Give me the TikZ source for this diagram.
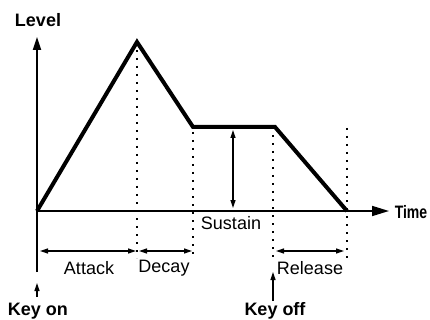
\documentclass[tikz,border=0pt]{standalone}
\usepackage{fontspec}
\setmainfont{Liberation Sans}
\usetikzlibrary{arrows.meta}
\begin{document}
\begin{tikzpicture}[x=1pt,y=-1pt,
  axis/.style={line width=1.7pt},
  env/.style={line width=4pt,line join=miter},
  dots/.style={line width=2pt,dash pattern=on 2pt off 6pt},
  dim/.style={line width=1.2pt,{Triangle[length=8pt,width=5pt]}-{Triangle[length=8pt,width=5pt]}},
  keyarrow/.style={line width=1.2pt,-{Triangle[length=8pt,width=5pt]}},
  lbl/.style={font=\fontsize{18}{20}\selectfont,inner sep=0pt},
  blbl/.style={font=\fontsize{18}{20}\selectfont\bfseries,inner sep=0pt}]
\useasboundingbox (0,0) rectangle (430,320);
% coordinates
\coordinate (o) at (37,211);
\coordinate (ytop) at (37,37);
\coordinate (ybot) at (37,272);
\coordinate (xend) at (389,211);
\coordinate (peak) at (137,42);
\coordinate (dend) at (193,127);
\coordinate (send) at (275,127);
\coordinate (rend) at (347,211);
% axes
\draw[axis,-{Triangle[length=13pt,width=8pt]}] (ybot) -- (ytop);
\draw[axis,-{Triangle[length=17pt,width=10pt]}] (o) -- (xend);
% dotted lines
\coordinate (d1t) at (137,50); \coordinate (d1b) at (137,258);
\coordinate (d2t) at (193,132); \coordinate (d2b) at (193,258);
\coordinate (d3t) at (273,135); \coordinate (d3b) at (273,258);
\coordinate (d4t) at (347,128); \coordinate (d4b) at (347,258);
\draw[dots] (d1t) -- (d1b);
\draw[dots] (d2t) -- (d2b);
\draw[dots] (d3t) -- (d3b);
\draw[dots] (d4t) -- (d4b);
% envelope
\draw[env] (o) -- (peak) -- (dend) -- (send) -- (rend);
% sustain arrow
\coordinate (st) at (233,130); \coordinate (sb) at (233,208);
\draw[dim] (st) -- (sb);
% duration arrows
\coordinate (a1) at (40,251); \coordinate (a2) at (136,251);
\coordinate (b1) at (139,251); \coordinate (b2) at (192,251);
\coordinate (r1) at (276,251); \coordinate (r2) at (344,251);
\draw[dim] (a1) -- (a2);
\draw[dim] (b1) -- (b2);
\draw[dim] (r1) -- (r2);
% key arrows
\coordinate (kon1) at (37,297); \coordinate (kon2) at (37,283);
\coordinate (koff1) at (273,301); \coordinate (koff2) at (273,272);
\draw[keyarrow] (kon1) -- (kon2);
\draw[keyarrow] (koff1) -- (koff2);
% labels
\node[blbl] (level) at (38,20) {Level};
\node[blbl,xscale=0.78] (time) at (411,212) {Time};
\node[lbl] (sustain) at (231,223) {Sustain};
\node[lbl] (attack) at (89,268) {Attack};
\node[lbl] (decay) at (164,268) {Decay};
\node[lbl] (release) at (310,268) {Release};
\node[blbl] (keyon) at (38,311) {Key on};
\node[blbl] (keyoff) at (275,311) {Key off};
\end{tikzpicture}
\end{document}
